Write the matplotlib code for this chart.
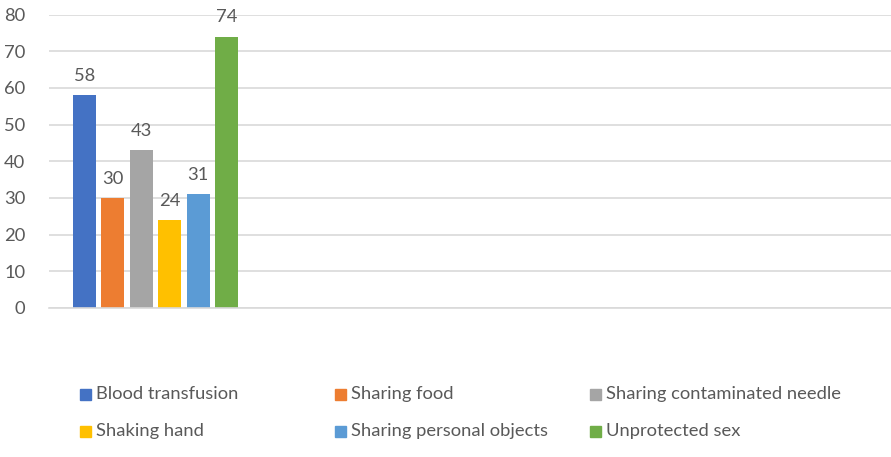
import numpy as np
import matplotlib.pyplot as plt

causes = ["Blood transfusion", "Sharing food", "Sharing contaminated needle",
          "Shaking hand", "Sharing personal objects", "Unprotected sex"]
counts = [58, 30, 43, 24, 31, 74]
colors = ["#4472C4", "#ED7D31", "#A5A5A5", "#FFC000", "#5B9BD5", "#70AD47"]

plt.rcParams['font.family'] = ['Lato', 'DejaVu Sans']
txt = "#595959"
fs = 13.2
W, H = 891, 457

fig = plt.figure(figsize=(W / 100, H / 100), dpi=100)
ax = fig.add_axes([49 / W, 1 - 308 / H, (W - 49) / W, (308 - 14.5) / H])

x = np.arange(len(counts))
ax.bar(x, counts, width=0.81, color=colors, zorder=2)
for xi, v in zip(x, counts):
    ax.text(xi, v + 5.2, str(v), ha="center", va="center", fontsize=fs, color=txt)

ax.set_ylim(0, 80)
ax.set_yticks(range(0, 81, 10))
ax.set_xlim(-1.25, 28.4)
ax.set_xticks([])
ax.grid(axis="y", color="#d9d9d9", linewidth=1.2, zorder=0)
for s in ["top", "right", "left"]:
    ax.spines[s].set_visible(False)
ax.spines["bottom"].set_color("#d9d9d9")
ax.spines["bottom"].set_linewidth(1.2)
ax.tick_params(axis="y", length=0, pad=17, labelsize=fs, labelcolor=txt)
for lab in ax.get_yticklabels():
    lab.set_horizontalalignment("right")

# legend laid out in a 3x2 grid like the original
col_x = [80, 335, 590]
row_y = [394, 431]
for i, (name, c) in enumerate(zip(causes, colors)):
    px = col_x[i % 3]
    py = row_y[i // 3]
    fig.patches.append(plt.Rectangle((px / W, 1 - (py + 5.5) / H), 11 / W, 11 / H,
                                     transform=fig.transFigure, color=c, figure=fig))
    fig.text((px + 16) / W, 1 - py / H, name, ha="left", va="center",
             fontsize=fs, color=txt)

fig.savefig("out.png", dpi=100)
